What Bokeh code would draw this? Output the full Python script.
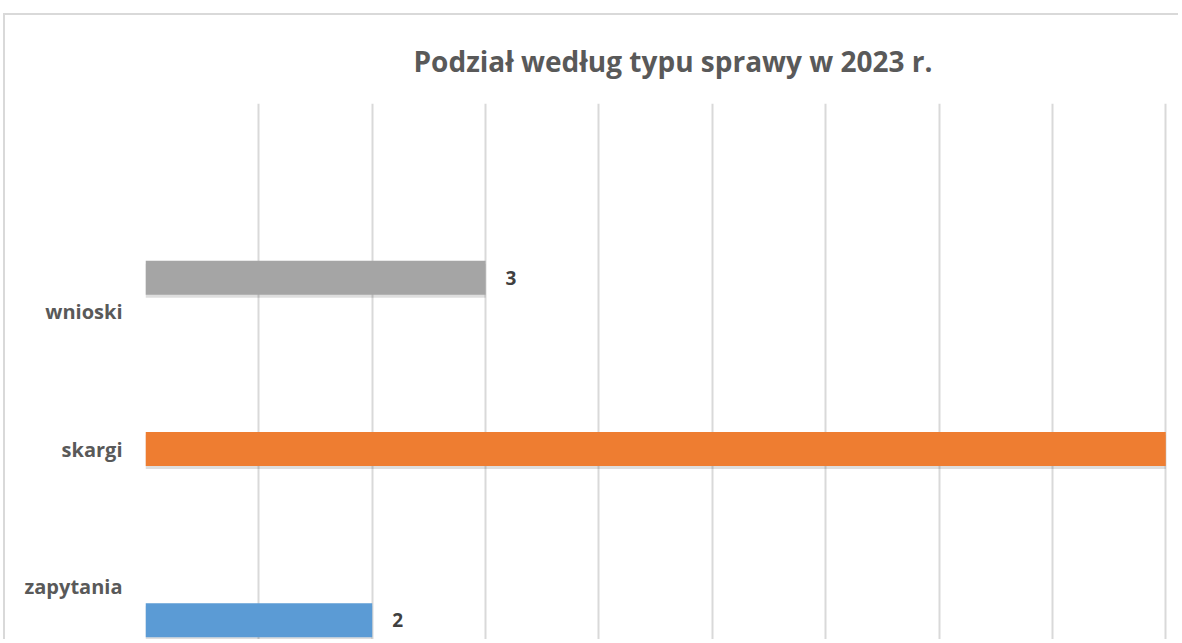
from bokeh.plotting import figure
from bokeh.models import Range1d, FixedTicker, ColumnDataSource
from bokeh.embed import file_html
from bokeh.resources import INLINE

# ---- data ----
categories = ["zapytania", "skargi", "wnioski"]
values = [2, 9, 3]
colors = ["#5b9bd5", "#ee7d31", "#a5a5a5"]
title_text = "Podział według typu sprawy w 2023 r."

# series offset inside each category band (clustered-bar slots)
slot_offset = [-0.245, 0.0, 0.245]
x_end = 9.13

pos = list(range(len(categories)))
ys = [p_ + o for p_, o in zip(pos, slot_offset)]
src = ColumnDataSource(dict(y=ys, v=values, c=colors,
                            ysh=[y - 0.022 for y in ys]))
# data labels that fall inside the visible area
vis = [i for i, v in enumerate(values) if v < x_end - 0.5]
lab_src = ColumnDataSource(dict(y=[ys[i] for i in vis], v=[values[i] for i in vis],
                                lbl=[str(values[i]) for i in vis]))

W, H = 1175, 626
p = figure(width=W, height=H, output_backend="svg", toolbar_location=None,
           x_range=Range1d(0, x_end), y_range=Range1d(-0.4, 3.513),
           x_axis_location=None, min_border_left=140, min_border_right=0,
           min_border_top=88, min_border_bottom=0)
p.styles = {"border-top": "2px solid #d9d9d9", "border-left": "2px solid #d9d9d9",
            "margin-left": "3px", "margin-top": "13px"}
p.outline_line_color = None

p.title.text = title_text
p.title.align = "left"
p.title.offset = 268
p.title.vertical_align = "top"
p.title.text_font = "Open Sans"
p.title.text_font_style = "bold"
p.title.text_font_size = "28px"
p.title.text_color = "#595959"
p.title.standoff = 44

p.xgrid.ticker = FixedTicker(ticks=list(range(0, 10)))
p.xgrid.grid_line_color = "#d9d9d9"
p.xgrid.grid_line_width = 2
p.ygrid.grid_line_color = None

p.yaxis.ticker = FixedTicker(ticks=pos)
p.yaxis.major_label_overrides = {i: c for i, c in enumerate(categories)}
p.yaxis.axis_line_color = None
p.yaxis.major_tick_line_color = None
p.yaxis.minor_tick_line_color = None
p.yaxis.major_tick_out = 0
p.yaxis.major_tick_in = 0
p.yaxis.major_label_standoff = 23
p.yaxis.major_label_text_font = "Open Sans"
p.yaxis.major_label_text_font_style = "bold"
p.yaxis.major_label_text_font_size = "20px"
p.yaxis.major_label_text_color = "#595959"

# shadow
p.hbar(y="ysh", right="v", left=0, height=0.247, source=src,
       fill_color="black", fill_alpha=0.13, line_color=None)
p.hbar(y="y", right="v", left=0, height=0.247, source=src,
       fill_color="c", line_color=None)

p.text(x="v", y="y", text="lbl", source=lab_src, x_offset=20,
       text_align="left", text_baseline="middle", text_font_size="19px",
       text_font_style="bold", text_color="#404040",
       text_font={"value": "Open Sans"})

open("out.html", "w").write(file_html(p, INLINE))
